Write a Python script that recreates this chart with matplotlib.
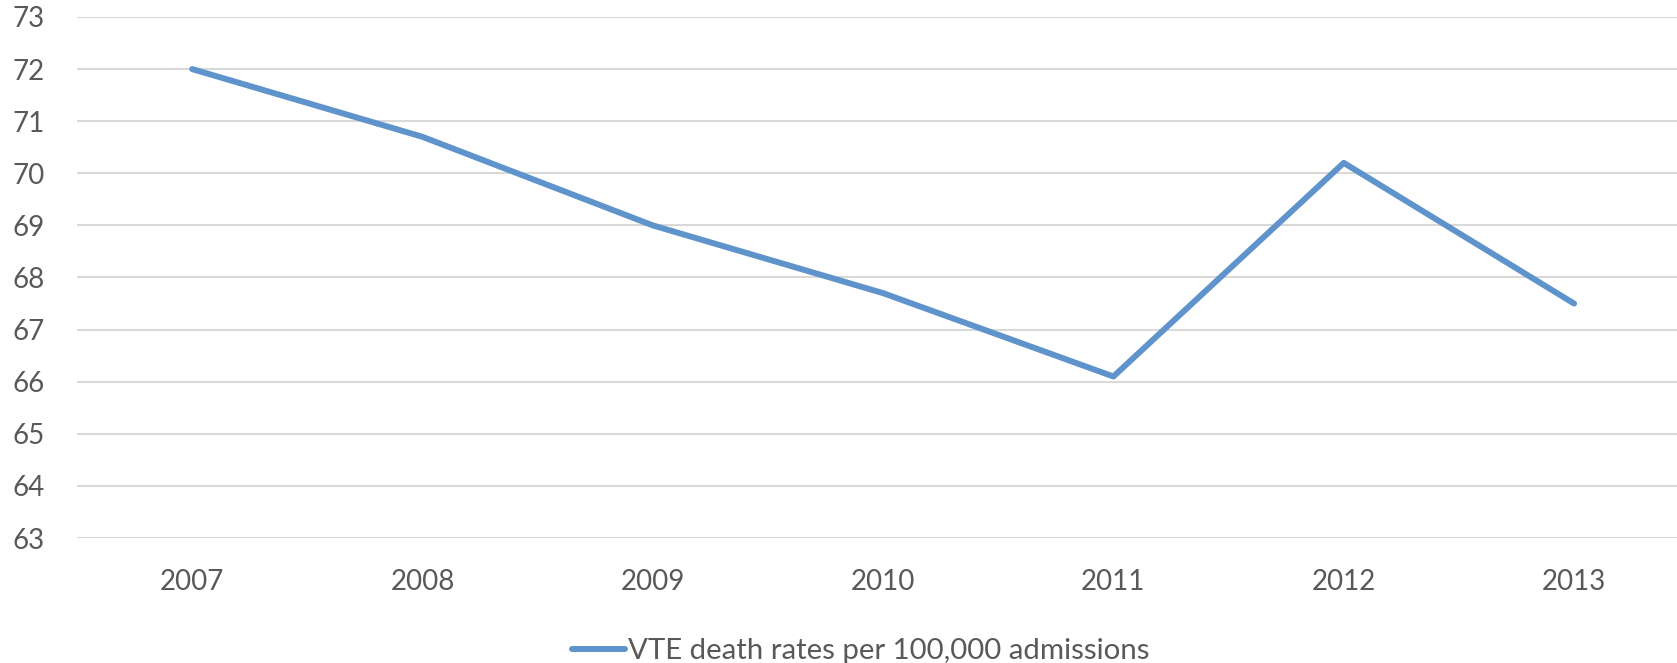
import matplotlib.pyplot as plt

# VTE death rates per 100,000 admissions, by year
years = ['2007', '2008', '2009', '2010', '2011', '2012', '2013']
rates = [72.0, 70.7, 69.0, 67.7, 66.1, 70.2, 67.5]
y_ticks = [63, 64, 65, 66, 67, 68, 69, 70, 71, 72, 73]

plt.rcParams['font.family'] = ['Lato', 'DejaVu Sans']

fig = plt.figure(figsize=(16.77, 6.63), dpi=100)
ax = fig.add_axes([0.0459, 0.1885, 0.9614, 0.7859])

x = list(range(len(years)))
line, = ax.plot(x, rates, color='#5f93cb', lw=4.3,
                solid_capstyle='round', solid_joinstyle='round',
                label='VTE death rates per 100,000 admissions', zorder=3)

ax.set_xlim(-0.5, len(years) - 0.5)
ax.set_ylim(63, 73)
ax.set_xticks(x)
ax.set_xticklabels(years)
ax.set_yticks(y_ticks)

ax.grid(axis='y', color='#d9d9d9', lw=1.5)
ax.set_axisbelow(True)
for s in ax.spines.values():
    s.set_visible(False)
ax.tick_params(length=0, colors='#595959', labelsize=20)
ax.tick_params(axis='y', pad=23)
ax.tick_params(axis='x', pad=22)

fig.legend(handles=[line], loc='center', bbox_to_anchor=(0.513, 0.018),
           frameon=False, fontsize=21.2, labelcolor='#595959',
           handlelength=1.8, handletextpad=0.1)

fig.savefig('out.png', dpi=100)
